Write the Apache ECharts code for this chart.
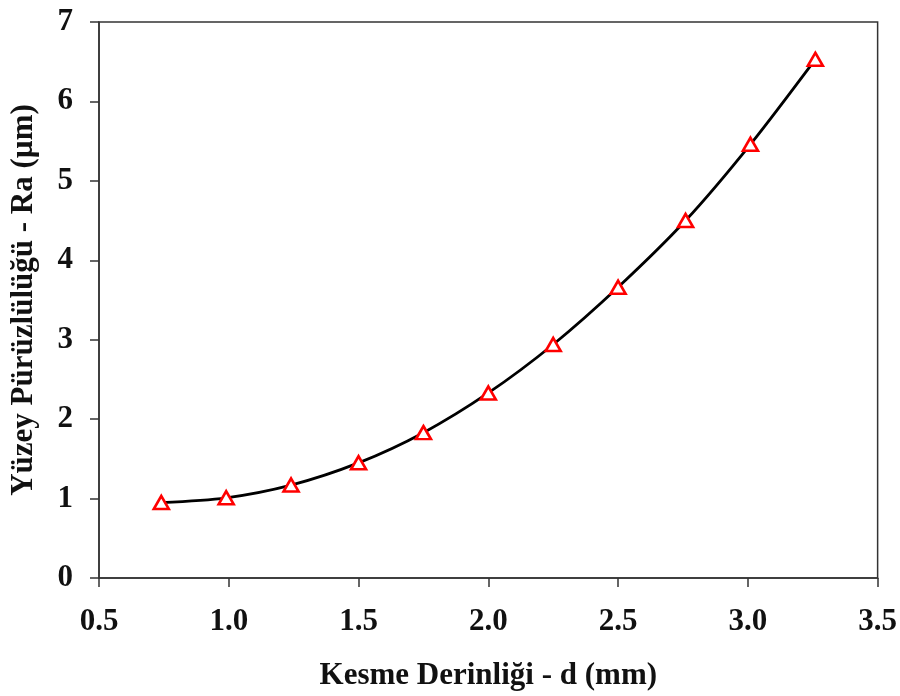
<!DOCTYPE html>
<html>
<head>
<meta charset="utf-8">
<script src="https://cdn.jsdelivr.net/npm/echarts@6/dist/echarts.min.js"></script>
<style>html,body{margin:0;padding:0;background:#fff}#c{width:900px;height:696px}</style>
</head>
<body>
<div id="c"></div>
<script>
const depth = [0.74, 0.99, 1.24, 1.50, 1.75, 2.00, 2.25, 2.50, 2.76, 3.01, 3.26];
const roughness = [0.95, 1.01, 1.17, 1.45, 1.83, 2.33, 2.94, 3.66, 4.50, 5.46, 6.53];
const xTitle = 'Kesme Derinliği - d (mm)';
const yTitle = 'Yüzey Pürüzlülüğü - Ra (µm)';

const font = 'Liberation Serif';
const chart = echarts.init(document.getElementById('c'), null, {renderer: 'canvas'});
chart.setOption({
  animation: false,
  backgroundColor: '#fff',
  grid: {left: 99, top: 22, right: 20, bottom: 113, show: true, borderColor: '#333', borderWidth: 1.5, backgroundColor: 'transparent'},
  xAxis: {
    type: 'value', min: 0.5, max: 3.5, interval: 0.5,
    name: xTitle, nameLocation: 'middle', nameGap: 82,
    nameTextStyle: {fontFamily: font, fontWeight: 'bold', fontSize: 31, color: '#111'},
    axisLine: {show: true, onZero: false, lineStyle: {color: '#333', width: 1.5}},
    axisTick: {show: true, inside: false, length: 9, lineStyle: {color: '#333', width: 1.5}},
    axisLabel: {margin: 28, fontFamily: font, fontWeight: 'bold', fontSize: 31, color: '#111',
      formatter: v => v.toFixed(1)},
    splitLine: {show: false}
  },
  yAxis: {
    type: 'value', min: 0, max: 7, interval: 1,
    name: yTitle, nameLocation: 'middle', nameGap: 60,
    nameTextStyle: {fontFamily: font, fontWeight: 'bold', fontSize: 31, color: '#111'},
    axisLine: {show: true, onZero: false, lineStyle: {color: '#333', width: 1.5}},
    axisTick: {show: true, inside: false, length: 9, lineStyle: {color: '#333', width: 1.5}},
    axisLabel: {margin: 26, fontFamily: font, fontWeight: 'bold', fontSize: 31, color: '#111'},
    splitLine: {show: false}
  },
  series: [{
    type: 'line',
    data: depth.map((d, i) => [d, roughness[i]]),
    smooth: 0.3,
    lineStyle: {color: '#000', width: 2.8},
    symbol: 'triangle',
    symbolSize: [15, 13],
    itemStyle: {color: '#fff', borderColor: '#f00', borderWidth: 2.6},
    z: 3
  }]
});
</script>
</body>
</html>
